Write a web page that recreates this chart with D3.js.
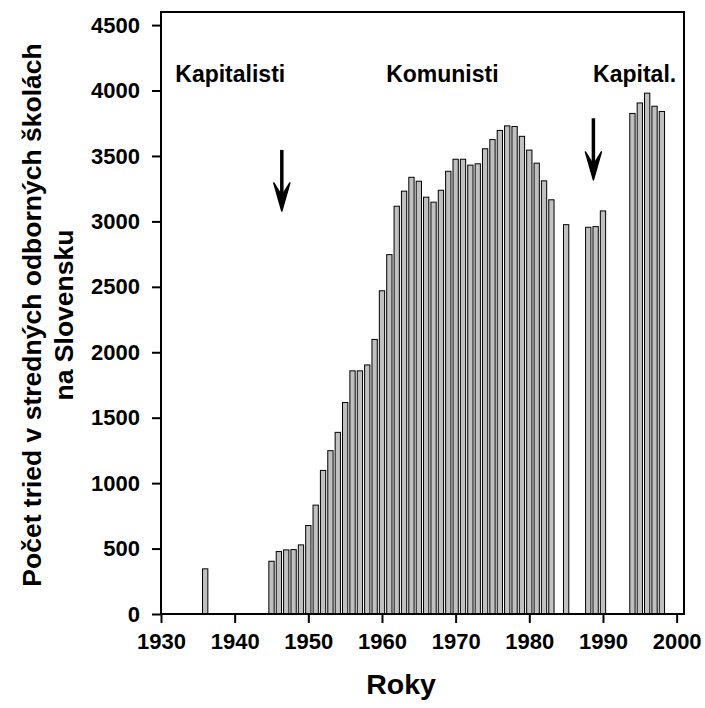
<!DOCTYPE html>
<html>
<head>
<meta charset="utf-8">
<script src="https://cdn.jsdelivr.net/npm/d3@7"></script>
<style>
  body { margin: 0; background: #fff; }
  svg { display: block; font-family: "Liberation Sans", Arial, sans-serif; font-weight: bold; }
</style>
</head>
<body>
<svg id="chart" width="705" height="708"></svg>
<script>
// Data
var years = [1936,
  1945, 1946, 1947, 1948, 1949, 1950, 1951, 1952, 1953, 1954,
  1955, 1956, 1957, 1958, 1959, 1960, 1961, 1962, 1963, 1964,
  1965, 1966, 1967, 1968, 1969, 1970, 1971, 1972, 1973, 1974,
  1975, 1976, 1977, 1978, 1979, 1980, 1981, 1982, 1983,
  1985, 1988, 1989, 1990,
  1994, 1995, 1996, 1997, 1998];
var classes = [345,
  403, 477, 490, 492, 528, 676, 832, 1097, 1248, 1388,
  1616, 1858, 1858, 1903, 2098, 2470, 2746, 3116, 3231, 3337,
  3307, 3185, 3147, 3238, 3383, 3475, 3475, 3430, 3440, 3555,
  3625, 3695, 3730, 3725, 3650, 3545, 3445, 3310, 3165,
  2975, 2955, 2960, 3080,
  3825, 3905, 3980, 3880, 3840];

var xTicks = [1930, 1940, 1950, 1960, 1970, 1980, 1990, 2000];
var yTicks = [0, 500, 1000, 1500, 2000, 2500, 3000, 3500, 4000, 4500];

// period labels and arrows (annotation positions in data units)
var periodNames = ["Kapitalisti", "Komunisti", "Kapital."];
var periodX = [1939.4, 1968.2, 1994.3];
var periodY = 4065;
var arrowX = [1946.4, 1988.7];
var arrowFrom = [3546, 3788];
var arrowTo = [3080, 3317];

var svg = d3.select("#chart");
var margin = {left: 161, top: 12, right: 21, bottom: 94};
var width = 705 - margin.left - margin.right;
var height = 708 - margin.top - margin.bottom;

var x = d3.scaleLinear().domain([1930, 2001]).range([0, width]);
var y = d3.scaleLinear().domain([0, 4600]).range([height, 0]);

var g = svg.append("g").attr("transform", "translate(" + margin.left + "," + margin.top + ")");

// bars
var barW = x(1930.72) - x(1930);
g.selectAll("rect.bar")
  .data(years)
  .enter().append("rect")
  .attr("class", "bar")
  .attr("x", function (d) { return x(d) - barW / 2; })
  .attr("y", function (d, i) { return y(classes[i]); })
  .attr("width", barW)
  .attr("height", function (d, i) { return y(0) - y(classes[i]); })
  .attr("fill", "#c0c0c0")
  .attr("stroke", "#000")
  .attr("stroke-width", 1);

// axes
var yAxis = g.append("g")
  .call(d3.axisLeft(y).tickValues(yTicks).tickFormat(d3.format("d")).tickSize(9).tickPadding(12));
var xAxis = g.append("g")
  .attr("transform", "translate(0," + height + ")")
  .call(d3.axisBottom(x).tickValues(xTicks).tickFormat(d3.format("d")).tickSize(9).tickPadding(10));

[yAxis, xAxis].forEach(function (a) {
  a.select(".domain").remove();
  a.selectAll("line").attr("stroke", "#000").attr("stroke-width", 2);
  a.selectAll("text")
    .attr("fill", "#000")
    .attr("font-size", 22)
    .attr("font-family", "Liberation Sans, Arial, sans-serif")
    .attr("font-weight", "bold");
});

// frame
g.append("rect")
  .attr("x", 0).attr("y", 0)
  .attr("width", width).attr("height", height)
  .attr("fill", "none")
  .attr("stroke", "#000")
  .attr("stroke-width", 2);

// period labels
g.selectAll("text.period")
  .data(periodNames)
  .enter().append("text")
  .attr("class", "period")
  .attr("x", function (d, i) { return x(periodX[i]); })
  .attr("y", y(periodY))
  .attr("text-anchor", "middle")
  .attr("font-size", 23)
  .text(function (d) { return d; });

// arrows
arrowX.forEach(function (ax, i) {
  var cx = x(ax), y0 = y(arrowFrom[i]), y1 = y(arrowTo[i]);
  g.append("line")
    .attr("x1", cx).attr("x2", cx)
    .attr("y1", y0).attr("y2", y1 - 12)
    .attr("stroke", "#000")
    .attr("stroke-width", 3.5);
  g.append("path")
    .attr("d", "M" + cx + "," + y1 +
      "L" + (cx - 8) + "," + (y1 - 28) +
      "L" + cx + "," + (y1 - 15) +
      "L" + (cx + 8) + "," + (y1 - 28) + "Z")
    .attr("fill", "#000")
    .attr("stroke", "#000")
    .attr("stroke-width", 1.5)
    .attr("stroke-linejoin", "round");
});

// axis titles
svg.append("text")
  .attr("x", margin.left + x(1962.6))
  .attr("y", 694)
  .attr("text-anchor", "middle")
  .attr("font-size", 28.5)
  .text("Roky");

var yTitle = svg.append("text")
  .attr("transform", "translate(0,315) rotate(-90)")
  .attr("text-anchor", "middle")
  .attr("font-size", 26.5);
yTitle.append("tspan").attr("x", 0).attr("y", 41).text("Počet tried v stredných odborných školách");
yTitle.append("tspan").attr("x", 0).attr("y", 73).text("na Slovensku");
</script>
</body>
</html>
